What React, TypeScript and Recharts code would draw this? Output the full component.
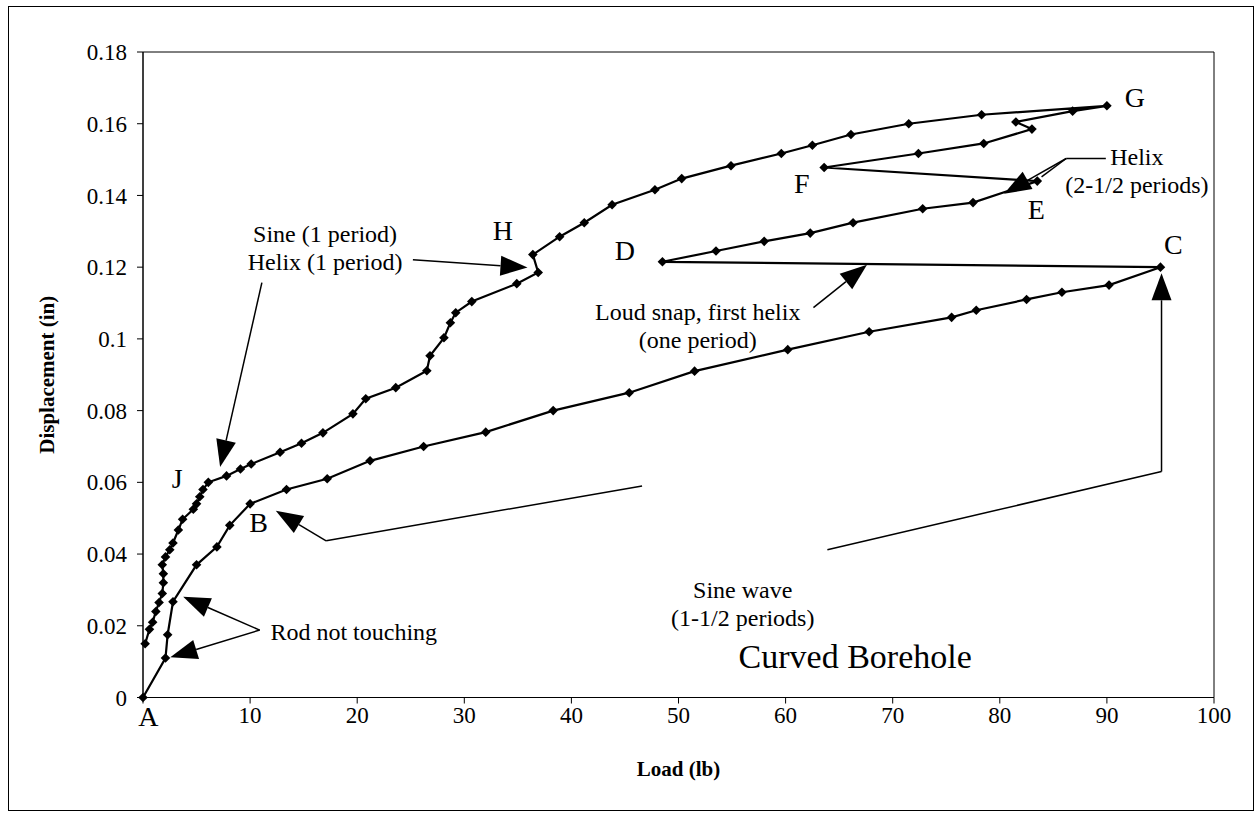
import React from 'react';
import { ScatterChart, Scatter, XAxis, YAxis, ReferenceLine, ReferenceDot, ReferenceArea } from 'recharts';

// Load (lb) along the loading path A -> B -> C, D -> E, F -> G, then back through H and J
const loadLb = [
  0, 2.1, 2.3, 2.8, 5.0, 6.9, 8.1, 10.0, 13.4, 17.2, 21.2, 26.2, 32.0, 38.3, 45.4, 51.5, 60.2, 67.8, 75.5, 77.8, 82.5, 85.8, 90.2, 95.0,
  48.5, 53.5, 58.0, 62.3, 66.3, 72.8, 77.5, 83.5,
  63.6, 72.4, 78.5, 83.0, 81.5, 86.8, 90.0,
  78.3, 71.5, 66.1, 62.5, 59.6, 54.9, 50.3, 47.8, 43.8, 41.2, 38.9, 36.4, 36.9, 34.9, 30.7, 29.2, 28.7, 28.1, 26.8, 26.5, 23.6,
  20.8, 19.6, 16.8, 14.8, 12.8, 10.1, 9.1, 7.8, 6.1, 5.6, 5.3, 5.0, 4.7, 3.7, 3.3, 2.8, 2.5, 2.1, 1.8, 1.9, 1.9, 1.8, 1.5, 1.2,
  0.9, 0.6, 0.2,
];
// Displacement (in)
const displacementIn = [
  0, 0.011, 0.0175, 0.0267, 0.037, 0.042, 0.048, 0.054, 0.058, 0.061, 0.066, 0.07, 0.074, 0.08, 0.085, 0.091, 0.097, 0.102, 0.106, 0.108, 0.111, 0.113, 0.115, 0.12,
  0.1215, 0.1245, 0.1272, 0.1295, 0.1324, 0.1363, 0.138, 0.144,
  0.1478, 0.1517, 0.1545, 0.1585, 0.1605, 0.1635, 0.165,
  0.1625, 0.16, 0.157, 0.154, 0.1517, 0.1483, 0.1447, 0.1416, 0.1374, 0.1324, 0.1285, 0.1235, 0.1185, 0.1154, 0.1104, 0.1073, 0.1045, 0.1003, 0.0953, 0.0911, 0.0864,
  0.0833, 0.0791, 0.0738, 0.0709, 0.0684, 0.0651, 0.0637, 0.0618, 0.06, 0.058, 0.056, 0.054, 0.0525, 0.0497, 0.0467, 0.0431, 0.0412, 0.0392, 0.037, 0.0345, 0.032, 0.029, 0.0265, 0.024,
  0.021, 0.019, 0.015,
];

const xTicks = [0, 10, 20, 30, 40, 50, 60, 70, 80, 90, 100];
const yTicks = [0, 0.02, 0.04, 0.06, 0.08, 0.1, 0.12, 0.14, 0.16, 0.18];

// point letters [text, load, displacement]
const pointLetters: [string, number, number][] = [
  ['A', 0.5, -0.0052],
  ['B', 10.8, 0.0488],
  ['C', 96.2, 0.1265],
  ['D', 45.0, 0.1248],
  ['E', 83.4, 0.1362],
  ['F', 61.5, 0.1436],
  ['G', 92.6, 0.1675],
  ['H', 33.6, 0.1305],
  ['J', 3.2, 0.0612],
];

// annotation texts [lines, load, displacement, anchor]
const notes: [string[], number, number, string][] = [
  [['Sine (1 period)', 'Helix (1 period)'], 17.0, 0.1254, 'middle'],
  [['Loud snap, first helix', '(one period)'], 51.8, 0.1035, 'middle'],
  [['Helix', '(2-1/2 periods)'], 92.8, 0.1468, 'middle'],
  [['Sine wave', '(1-1/2 periods)'], 56, 0.026, 'middle'],
  [['Rod not touching'], 11.9, 0.0184, 'start'],
];

// arrows: polyline in data units, last point is the tip; head flag
const arrows: [[number, number][], boolean][] = [
  [[[10.9, 0.0188], [3.75, 0.0281]], true],
  [[[10.9, 0.0188], [2.55, 0.0112]], true],
  [[[46.6, 0.059], [17.1, 0.0437], [12.4, 0.0521]], true],
  [[[63.9, 0.0412], [95.1, 0.063], [95.1, 0.1183]], true],
  [[[62.6, 0.1087], [67.6, 0.1207]], true],
  [[[25.2, 0.1221], [35.9, 0.1199]], true],
  [[[11.1, 0.1157], [7.2, 0.0643]], true],
  [[[89.9, 0.1503], [86.2, 0.1503], [80.4, 0.1405]], true],
  [[[86.2, 0.1503], [83.9, 0.1452]], false],
];

const data = loadLb.map((x, i) => ({ x, y: displacementIn[i] }));

const FONT = '"Liberation Serif", "Times New Roman", serif';

const Diamond = (p: any) => {
  const { cx, cy } = p;
  if (cx == null || cy == null) return null;
  const r = 4.8;
  return <polygon points={`${cx},${cy - r} ${cx + r},${cy} ${cx},${cy + r} ${cx - r},${cy}`} fill="#000" />;
};

const segShape = (head: boolean) => (p: any) => {
  const { x1, y1, x2, y2 } = p;
  if (!head) return <line x1={x1} y1={y1} x2={x2} y2={y2} stroke="#000" strokeWidth={1.5} />;
  const dx = x2 - x1;
  const dy = y2 - y1;
  const len = Math.sqrt(dx * dx + dy * dy) || 1;
  const ux = dx / len;
  const uy = dy / len;
  const hl = 27;
  const hw = 10;
  const bx = x2 - ux * hl;
  const by = y2 - uy * hl;
  return (
    <g>
      <line x1={x1} y1={y1} x2={bx} y2={by} stroke="#000" strokeWidth={1.5} />
      <polygon points={`${x2},${y2} ${bx - uy * hw},${by + ux * hw} ${bx + uy * hw},${by - ux * hw}`} fill="#000" />
    </g>
  );
};

const textShape = (lines: string[], size: number, anchor: string) => (p: any) => {
  const { cx, cy } = p;
  const lh = size * 1.17;
  const top = cy - ((lines.length - 1) * lh) / 2;
  return (
    <text x={cx} y={top} fontFamily={FONT} fontSize={size} textAnchor={anchor} dominantBaseline="central" fill="#000">
      {lines.map((l, i) => (
        <tspan key={i} x={cx} y={top + i * lh}>
          {l}
        </tspan>
      ))}
    </text>
  );
};

const fmtY = (v: number) => (v === 0 ? '0' : String(Number(v.toFixed(2))));
// the "0" load label sits under the point letter A in the original, so it is covered there
const fmtX = (v: number) => (v === 0 ? '' : String(v));

export default function App() {
  const arrowSegs: any[] = [];
  arrows.forEach(([pts, head], ai) => {
    for (let i = 0; i < pts.length - 1; i++) {
      const isLast = i === pts.length - 2;
      arrowSegs.push(
        <ReferenceLine
          key={`a${ai}-${i}`}
          segment={[{ x: pts[i][0], y: pts[i][1] }, { x: pts[i + 1][0], y: pts[i + 1][1] }]}
          ifOverflow="visible"
          shape={segShape(head && isLast)}
        />
      );
    }
  });

  return (
    <div
      style={{
        position: 'absolute',
        left: 8,
        top: 6,
        width: 1246,
        height: 805,
        border: '1px solid #000',
        boxSizing: 'border-box',
        background: '#fff',
      }}
    >
      <ScatterChart width={1244} height={803} margin={{ top: 45, right: 39, bottom: 37.5, left: 0 }}>
        <ReferenceArea x1={0} x2={100} y1={0} y2={0.18} fill="none" stroke="#000" strokeWidth={1} ifOverflow="visible" />
        <XAxis
          type="number"
          dataKey="x"
          domain={[0, 100]}
          ticks={xTicks}
          interval={0}
          height={75}
          tickFormatter={fmtX}
          axisLine={{ stroke: '#000' }}
          tickLine={{ stroke: '#000' }}
          tickSize={6}
          tickMargin={3}
          tick={{ fill: '#000', fontSize: 23, fontFamily: FONT }}
          label={{
            position: 'insideBottom',
            content: (lp: any) => (
              <text
                x={lp.viewBox.x + lp.viewBox.width / 2}
                y={lp.viewBox.y + 78}
                textAnchor="middle"
                fontFamily={FONT}
                fontWeight="bold"
                fontSize={21}
                fill="#000"
              >
                Load (lb)
              </text>
            ),
          }}
        />
        <YAxis
          type="number"
          dataKey="y"
          domain={[0, 0.18]}
          ticks={yTicks}
          interval={0}
          width={134}
          tickFormatter={fmtY}
          axisLine={{ stroke: '#000' }}
          tickLine={{ stroke: '#000' }}
          tickSize={6}
          tickMargin={10}
          tick={{ fill: '#000', fontSize: 23, fontFamily: FONT }}
          label={{
            position: 'center',
            content: (lp: any) => {
              const x = 38;
              const y = lp.viewBox.y + lp.viewBox.height / 2;
              return (
                <text
                  x={x}
                  y={y}
                  transform={`rotate(-90 ${x} ${y})`}
                  textAnchor="middle"
                  dominantBaseline="central"
                  fontFamily={FONT}
                  fontWeight="bold"
                  fontSize={21}
                  fill="#000"
                >
                  Displacement (in)
                </text>
              );
            },
          }}
        />
        <Scatter
          data={data}
          line={{ stroke: '#000', strokeWidth: 2.2 }}
          lineType="joint"
          shape={Diamond}
          isAnimationActive={false}
        />
        {arrowSegs}
        {pointLetters.map(([t, x, y]) => (
          <ReferenceDot key={t} x={x} y={y} r={1} ifOverflow="visible" shape={textShape([t], 28, 'middle')} />
        ))}
        {notes.map(([lines, x, y, anchor], i) => (
          <ReferenceDot key={`n${i}`} x={x} y={y} r={1} ifOverflow="visible" shape={textShape(lines, 24, anchor)} />
        ))}
        <ReferenceDot x={66.5} y={0.0116} r={1} ifOverflow="visible" shape={textShape(['Curved Borehole'], 34, 'middle')} />
      </ScatterChart>
    </div>
  );
}
